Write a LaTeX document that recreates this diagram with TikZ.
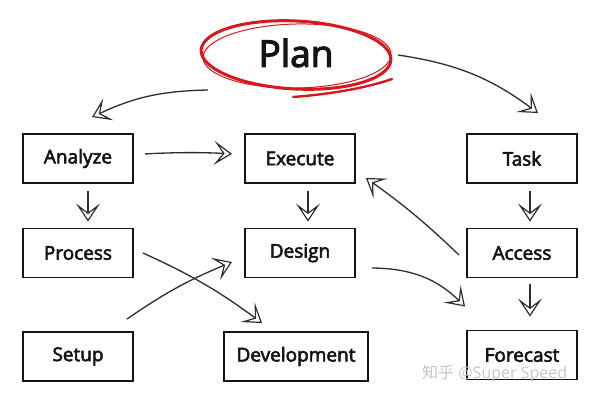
\documentclass[tikz,border=0pt]{standalone}
\usepackage{fontspec}
\setmainfont{Open Sans}
\newfontfamily\boxfont{Open Sans}[RawFeature={embolden=3}]
\newfontfamily\cjkfont{Noto Sans CJK SC}
\usetikzlibrary{arrows.meta,calc,shapes.geometric}
\definecolor{planred}{RGB}{215,25,30}
\definecolor{ink}{RGB}{20,20,20}
\definecolor{arrowink}{RGB}{45,45,45}
\tikzset{
  box/.style={draw=ink, line width=1.9pt, minimum width=110pt, minimum height=49pt,
    inner sep=0pt, font=\boxfont\fontsize{19}{22}\selectfont, text=ink},
  conn/.style={draw=arrowink, line width=1.3pt,
    -{Stealth[open, length=18pt, width=24pt, inset=9pt, line width=1.2pt]}},
}
\begin{document}
\begin{tikzpicture}[x=1pt,y=-1pt]
\useasboundingbox (0,0) rectangle (600,400);
\fill[white] (0,0) rectangle (600,400);

% Plan
\node[ellipse, minimum width=192pt, minimum height=70pt, inner sep=0pt,
      font=\boxfont\fontsize{37}{42}\selectfont, text=ink] (plan) at (296,53) {Plan};
\draw[planred, line width=3pt, rotate around={-3:(296,55)}] (296,55) ellipse [x radius=95, y radius=34];
\draw[planred, line width=1pt, rotate around={1:(296,55)}] (297,56) ellipse [x radius=94, y radius=32];
\draw[planred, line width=2.4pt, line cap=round] (392,79) .. controls (360,90) and (320,95) .. (293,97);

% boxes
\node[box] (analyze) at (78,158.5) {Analyze};
\node[box] (process) at (78,253) {Process};
\node[box] (setup) at (78,356.5) {Setup};
\node[box] (execute) at (300,158.5) {Execute};
\node[box] (design) at (300,253) {Design};
\node[box, minimum width=144pt] (development) at (296,356.5) {Development};
\node[box] (task) at (522,158.5) {Task};
\node[box] (access) at (522,253) {Access};
\node[box] (forecast) at (522,355) {Forecast};

% connectors
\draw[conn] ([shift={(-88,37)}]plan.center) to[bend right=12] ([shift={(14,-16)}]analyze.north);
\draw[conn] ([shift={(102,2)}]plan.center) to[bend left=14] ([shift={(16,-20)}]task.north);
\draw[conn, shorten <=11pt, shorten >=12pt] ([yshift=4]analyze.east) to[bend left=3] ([yshift=4]execute.west);
\draw[conn, shorten <=7pt, shorten >=6pt] ([xshift=10]analyze.south) -- ([xshift=10]process.north);
\draw[conn, shorten <=7pt, shorten >=6pt] ([xshift=8]execute.south) -- ([xshift=8]design.north);
\draw[conn, shorten <=7pt, shorten >=6pt] ([xshift=8]task.south) -- ([xshift=8]access.north);
\draw[conn, shorten <=6pt, shorten >=13pt] ([xshift=8]access.south) -- ([xshift=8]forecast.north);
\draw[conn] ([shift={(-7,2)}]access.west) to[bend right=4] ([shift={(10,-6)}]execute.south east);
\draw[conn] ([shift={(9,0)}]process.east) to[bend left=6] ([shift={(39,-8)}]development.north west);
\draw[conn] ([shift={(-7,-12)}]setup.north east) to[bend left=6] ([shift={(-12,9)}]design.west);
\draw[conn] ([shift={(16,15)}]design.east) to[bend left=22] ([shift={(-1,-23)}]forecast.north west);

% watermark
\node[anchor=west, inner sep=0pt, text=black!22, font=\fontsize{16}{19}\selectfont] (wm) at (422,374) {{\cjkfont 知乎} @Super Speed};
\end{tikzpicture}
\end{document}
